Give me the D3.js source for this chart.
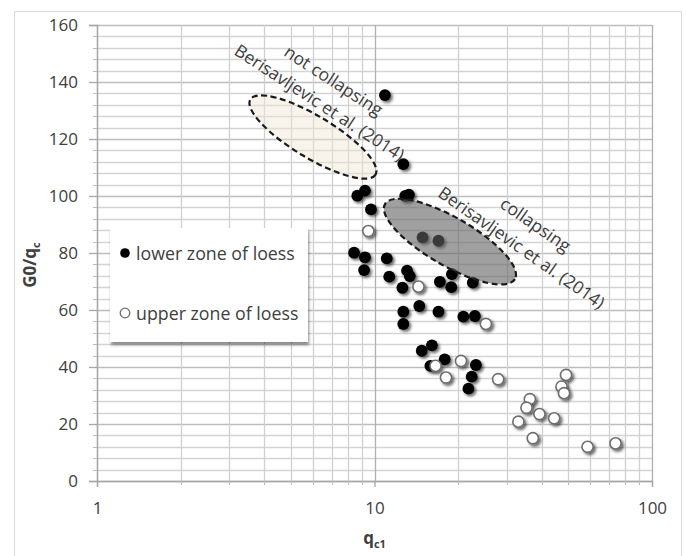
<!DOCTYPE html>
<html>
<head>
<meta charset="utf-8">
<script src="https://cdn.jsdelivr.net/npm/d3@7"></script>
<style>
  body { margin: 0; background: #fff; }
  text { font-family: "Open Sans", "Noto Sans", sans-serif; fill: #404040; }
</style>
</head>
<body>
<div id="chart"></div>
<script>
// lower zone of loess (black markers)
const lowerX = [10.9, 12.7, 8.67, 9.24, 9.71, 12.9, 13.3, 14.9, 17.0, 8.44, 9.24, 9.17,
  11.07, 11.3, 13.1, 13.4, 12.6, 17.2, 19.0, 18.9, 22.6, 12.7, 12.7, 14.5, 17.0, 20.9,
  23.0, 14.8, 16.1, 17.9, 15.9, 23.2, 22.4, 21.8];
const lowerY = [135.4, 111.2, 100.1, 101.9, 95.3, 100.0, 100.5, 85.5, 84.3, 80.1, 78.5, 74.0,
  78.1, 71.7, 73.8, 71.9, 67.8, 69.9, 72.6, 68.0, 69.6, 59.4, 55.1, 61.4, 59.4, 57.7,
  57.9, 45.7, 47.6, 42.7, 40.4, 40.7, 36.6, 32.4];

// upper zone of loess (white markers)
const upperX = [9.5, 14.4, 25.2, 16.6, 20.5, 18.1, 27.9, 49.0, 47.2, 48.2, 36.3, 35.3,
  39.3, 44.4, 33.0, 37.2, 58.6, 73.9];
const upperY = [87.7, 68.2, 55.1, 40.4, 42.1, 36.3, 35.7, 37.2, 33.1, 30.8, 28.7, 25.7,
  23.5, 22.0, 20.8, 15.0, 12.0, 13.2];

const xTicks = [1, 10, 100];
const yTicks = [0, 20, 40, 60, 80, 100, 120, 140, 160];

// zones from Berisavljevic et al. (2014), centres in data units
const zoneX = [6.0, 18.7];
const zoneY = [120.7, 84.0];
const zoneLabel = ["not collapsing", "collapsing"];

const W = 686, H = 556;
const margin = {left: 97, top: 25, right: 34, bottom: 75};

const svg = d3.select("#chart").append("svg")
  .attr("width", W).attr("height", H);

const defs = svg.append("defs");
const sh = defs.append("filter").attr("id", "shadow")
  .attr("x", "-50%").attr("y", "-50%").attr("width", "200%").attr("height", "200%");
sh.append("feDropShadow").attr("dx", 2).attr("dy", 2).attr("stdDeviation", 1.4)
  .attr("flood-color", "#000").attr("flood-opacity", 0.6);
const lsh = defs.append("filter").attr("id", "lshadow")
  .attr("x", "-10%").attr("y", "-10%").attr("width", "130%").attr("height", "130%");
lsh.append("feDropShadow").attr("dx", 1).attr("dy", 3).attr("stdDeviation", 1.5)
  .attr("flood-color", "#000").attr("flood-opacity", 0.45);

// outer chart border
svg.append("rect").attr("x", 14.5).attr("y", 11.5).attr("width", 667).attr("height", 560)
  .attr("fill", "none").attr("stroke", "#d9d9d9");

const x = d3.scaleLog().domain([1, 100]).range([margin.left, W - margin.right]);
const y = d3.scaleLinear().domain([0, 160]).range([H - margin.bottom, margin.top]);

const g = svg.append("g");

// gridlines
const minorY = d3.range(0, 161, 4);
g.selectAll(".hgrid").data(minorY).enter().append("line")
  .attr("x1", x(1)).attr("x2", x(100))
  .attr("y1", d => Math.round(y(d)) + 0.5).attr("y2", d => Math.round(y(d)) + 0.5)
  .attr("stroke", d => d % 20 === 0 ? "#bdbdbd" : "#d4d4d4")
  .attr("stroke-width", 1.3);

const minorX = x.ticks();
g.selectAll(".vgrid").data(minorX).enter().append("line")
  .attr("y1", y(0)).attr("y2", y(160))
  .attr("x1", d => Math.round(x(d)) + 0.5).attr("x2", d => Math.round(x(d)) + 0.5)
  .attr("stroke", d => xTicks.includes(d) ? "#b0b0b0" : "#d0d0d0")
  .attr("stroke-width", 1.3);

// axes
const yAxis = g.append("g").attr("transform", `translate(${x(1)},0)`)
  .call(d3.axisLeft(y).tickValues(yTicks).tickSize(8).tickPadding(11));
const xAxis = g.append("g").attr("transform", `translate(0,${y(0)})`)
  .call(d3.axisBottom(x).tickValues(xTicks).tickFormat(d3.format("d")).tickSize(6).tickPadding(15));
[yAxis, xAxis].forEach(a => {
  a.select(".domain").attr("stroke", "#a6a6a6").attr("stroke-width", 1.3);
  a.selectAll(".tick line").attr("stroke", "#a6a6a6").attr("stroke-width", 1.3);
  a.selectAll("text").attr("font-size", 17).attr("fill", "#404040")
    .attr("font-family", "'Open Sans', sans-serif");
});
// minor ticks
g.selectAll(".ymin").data(minorY.filter(d => d % 20 !== 0)).enter().append("line")
  .attr("x1", x(1) - 4).attr("x2", x(1))
  .attr("y1", d => Math.round(y(d)) + 0.5).attr("y2", d => Math.round(y(d)) + 0.5)
  .attr("stroke", "#bdbdbd");
g.selectAll(".xmin").data(minorX.filter(d => !xTicks.includes(d))).enter().append("line")
  .attr("y1", y(0)).attr("y2", y(0) + 4)
  .attr("x1", d => Math.round(x(d)) + 0.5).attr("x2", d => Math.round(x(d)) + 0.5)
  .attr("stroke", "#bdbdbd");

// axis titles
const yt = svg.append("text")
  .attr("transform", `translate(36,${(y(0) + y(160)) / 2 + 12}) rotate(-90)`)
  .attr("text-anchor", "middle").attr("font-size", 17).attr("font-weight", "bold")
  .attr("fill", "#333");
yt.append("tspan").text("G0/q");
yt.append("tspan").attr("font-size", 11).attr("dy", 4).text("c");

const xt = svg.append("text")
  .attr("x", x(10)).attr("y", 544)
  .attr("text-anchor", "middle").attr("font-size", 17).attr("font-weight", "bold")
  .attr("fill", "#333");
xt.append("tspan").text("q");
xt.append("tspan").attr("font-size", 11).attr("dy", 4).text("c1");

// not collapsing zone (below the points)
const ell = (i, rx, ry, ang) => g.append("ellipse")
  .attr("transform", `translate(${x(zoneX[i])},${y(zoneY[i])}) rotate(${ang})`)
  .attr("rx", rx).attr("ry", ry)
  .attr("stroke", "#1a1a1a").attr("stroke-width", 2.2).attr("stroke-dasharray", "6,3.5");

ell(0, 73, 21, 31).attr("fill", "#efe6d2").attr("fill-opacity", 0.45);

// data points
const lower = lowerX.map((v, i) => [v, lowerY[i]]);
const upper = upperX.map((v, i) => [v, upperY[i]]);

g.selectAll(".lower").data(lower).enter().append("circle")
  .attr("cx", d => x(d[0])).attr("cy", d => y(d[1])).attr("r", 5.9)
  .attr("fill", "#000").attr("filter", "url(#shadow)");

g.selectAll(".upper").data(upper).enter().append("circle")
  .attr("cx", d => x(d[0])).attr("cy", d => y(d[1])).attr("r", 5.6)
  .attr("fill", "#fff").attr("stroke", "#6e6e6e").attr("stroke-width", 1.6)
  .attr("filter", "url(#shadow)");

// collapsing zone drawn over the points
ell(1, 75, 24, 30).attr("fill", "#606060").attr("fill-opacity", 0.6);

// zone labels
const labelSet = [
  {i: 0, ang: 33, lines: [[zoneLabel[0], 7.15, 140.7], ["Berisavljevic et al. (2014)", 6.36, 133.0]]},
  {i: 1, ang: 35, lines: [[zoneLabel[1], 38.2, 90.2], ["Berisavljevic et al. (2014)", 34.0, 82.1]]}
];
labelSet.forEach(s => s.lines.forEach(l => {
  svg.append("text")
    .attr("transform", `translate(${x(l[1])},${y(l[2])}) rotate(${s.ang})`)
    .attr("text-anchor", "middle").attr("dominant-baseline", "central")
    .attr("font-size", 17.5).attr("fill", "#1f1f1f")
    .text(l[0]);
}));

// legend
const leg = svg.append("g");
leg.append("rect").attr("x", 110).attr("y", 228).attr("width", 198).attr("height", 114)
  .attr("fill", "#fff").attr("filter", "url(#lshadow)");
const legItems = [
  {name: "lower zone of loess", fill: "#000", stroke: "none"},
  {name: "upper zone of loess", fill: "#fff", stroke: "#6e6e6e"}
];
legItems.forEach((it, i) => {
  const yy = 253 + i * 60;
  leg.append("circle").attr("cx", 125).attr("cy", yy).attr("r", 4.8)
    .attr("fill", it.fill).attr("stroke", it.stroke).attr("stroke-width", 1.3);
  leg.append("text").attr("x", 136).attr("y", yy).attr("dominant-baseline", "central")
    .attr("font-size", 17.8).attr("fill", "#333").text(it.name);
});
</script>
</body>
</html>
